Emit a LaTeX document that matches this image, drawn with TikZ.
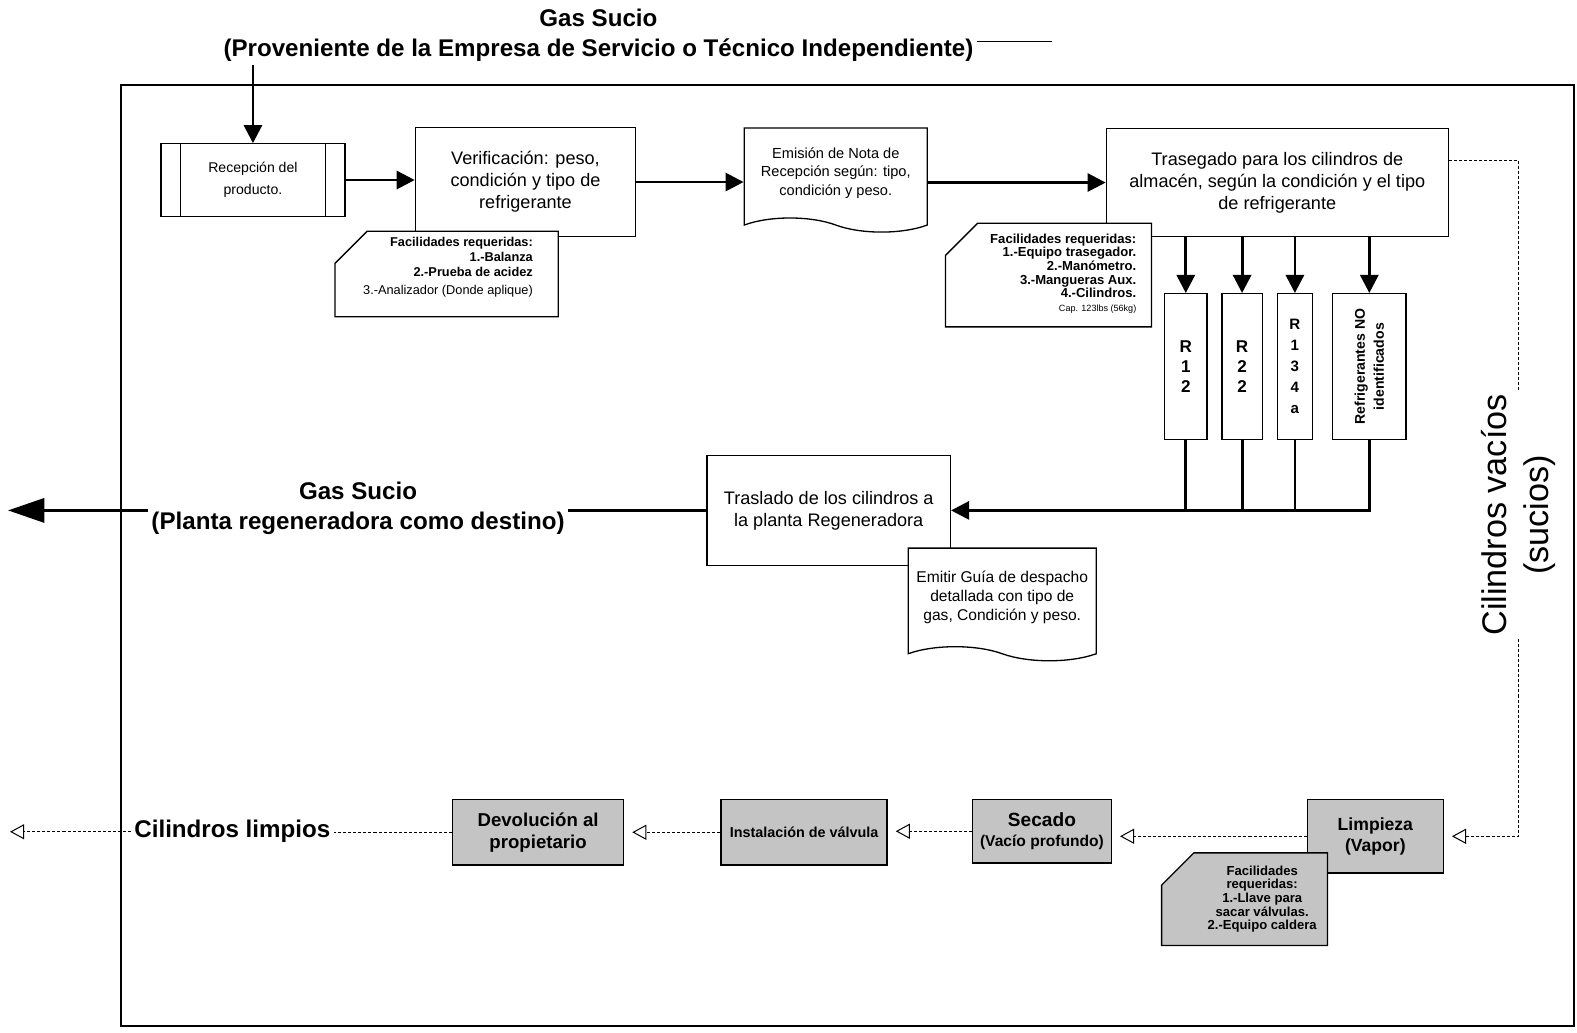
\documentclass[tikz,border=0pt]{standalone}
\usepackage{fontspec}
\setmainfont{Liberation Sans}
\usetikzlibrary{arrows.meta, shapes.symbols, calc}
\definecolor{speck}{RGB}{196,196,196}

% caja con la esquina superior izquierda cortada: x1, y1, x2, y2, relleno
\newcommand{\chamferbox}[5]{%
  \filldraw[line width=1.3pt, fill=#5] ({#1+32},#2) -- (#3,#2) -- (#3,#4) -- (#1,#4) -- (#1,{#2+32}) -- cycle;}

\tikzset{
  proc/.style={draw, line width=1.3pt, fill=white, align=center, inner sep=3pt,
    font=\fontsize{18}{22}\selectfont},
  docbox/.style={proc, shape=tape, tape bend top=none, tape bend bottom=out and in,
    tape bend height=14pt},
  factext/.style={align=right, inner sep=0pt, font=\fontsize{12.7}{14.5}\selectfont\bfseries},
  rbox/.style={draw, line width=1.3pt, fill=white, align=center, minimum height=145pt,
    inner sep=0pt, font=\fontsize{17}{20}\selectfont\bfseries},
  greybox/.style={draw, line width=1.3pt, fill=speck, align=center, inner sep=2pt,
    font=\fontsize{15}{19}\selectfont\bfseries},
  flow/.style={line width=2.8pt, -{Triangle[length=18pt, width=18pt]}},
  backflow/.style={line width=0.8pt, densely dashed,
    -{Triangle[open, length=14pt, width=15pt, line width=1pt]}, shorten >=8pt},
  bigtext/.style={font=\fontsize{24}{30}\selectfont\bfseries, align=center},
}

\begin{document}
\begin{tikzpicture}[x=1pt, y=-1pt]
\useasboundingbox (0,0) rectangle (1568,1027);

% marco
\draw[line width=2pt] (120,85) rectangle (1565,1020);

% entrada del gas
\node[bigtext] (gsin) at (595,35) {Gas Sucio\\(Proveniente de la Empresa de Servicio o Técnico Independiente)};
\draw[line width=1.3pt] ([yshift=-6pt]gsin.east) -- ++(75,0);

% recepcion y verificacion
\node[proc, minimum width=183pt, minimum height=72pt, font=\fontsize{14}{22}\selectfont] (recep) at (251.5,179) {Recepción del\\producto.};
\draw[line width=1.3pt] ([xshift=20pt]recep.north west) -- ([xshift=20pt]recep.south west)
  ([xshift=-20pt]recep.north east) -- ([xshift=-20pt]recep.south east);
\draw[flow] (recep.north |- gsin.south) -- (recep.north);

\node[proc, minimum width=219pt, minimum height=108pt] (verif) at (522.5,181) {Verificación: peso,\\condición y tipo de\\refrigerante};
\chamferbox{333}{230}{555}{315}{white}
\node[factext, anchor=east] (facverif) at (530,266)
  {Facilidades requeridas:\\1.-Balanza\\2.-Prueba de acidez\\[4pt]\mdseries 3.-Analizador (Donde aplique)};

\node[docbox, minimum width=182pt, minimum height=103.5pt, font=\fontsize{14.5}{18.5}\selectfont] (nota) at (831,172)
  {Emisión de Nota de\\Recepción según: tipo,\\condición y peso.};

\node[proc, minimum width=340pt, minimum height=107pt] (trase) at (1270,181.5)
  {Trasegado para los cilindros de\\almacén, según la condición y el tipo\\de refrigerante};
\chamferbox{940}{222}{1145}{325}{white}
\node[factext, anchor=east, font=\fontsize{13}{13.5}\selectfont\bfseries] (factrase) at (1130,272)
  {Facilidades requeridas:\\1.-Equipo trasegador.\\2.-Manómetro.\\3.-Mangueras Aux.\\4.-Cilindros.\\{\mdseries\fontsize{9}{13}\selectfont Cap. 123lbs (56kg)}};

\draw[flow] (recep.east) -- (recep.east -| verif.west);
\draw[flow] (verif.east) -- (verif.east -| nota.west);
\draw[flow] (nota.east |- trase.west) -- (trase.west);

% separacion por tipo
\node[rbox, minimum width=42pt] (rdoce) at (1179,364.5) {R\\1\\2};
\node[rbox, minimum width=40pt] (rveinti) at (1235,364.5) {R\\2\\2};
\node[rbox, minimum width=35pt, font=\fontsize{15}{21}\selectfont\bfseries] (rcien) at (1287.5,364.5) {R\\1\\3\\4\\a};
\node[rbox, minimum width=73pt] (rno) at (1361.5,364.5) {};
\node[rotate=90, align=center, font=\fontsize{14}{19}\selectfont\bfseries] (rnotxt) at (rno.center) {Refrigerantes NO\\identificados};
\foreach \r in {rdoce, rveinti, rcien, rno}
  \draw[flow] (\r.north |- trase.south) -- (\r.north);

% traslado a la planta
\node[proc, minimum width=242pt, minimum height=109pt] (trasl) at (824,507.5) {Traslado de los cilindros a\\la planta Regeneradora};
\foreach \r in {rdoce, rveinti, rcien}
  \draw[line width=2.8pt] (\r.south) -- (\r.south |- trasl.east);
\draw[flow] (rno.south) |- (trasl.east);

\node[docbox, minimum width=187pt, minimum height=112pt, font=\fontsize{15.5}{18.5}\selectfont] (guia) at (996.5,594)
  {Emitir Guía de despacho\\detallada con tipo de\\gas, Condición y peso.};

\node[bigtext] (gsout) at (356,505) {Gas Sucio\\(Planta regeneradora como destino)};
\coordinate (fuera) at (8,507.5);
\draw[line width=2.8pt] (trasl.west) -- (trasl.west -| gsout.east);
\draw[line width=2.8pt, -{Triangle[length=36pt, width=24pt]}] (gsout.west |- trasl.west) -- (fuera);

% retorno de cilindros
\node[greybox, minimum width=135pt, minimum height=73pt, font=\fontsize{17.5}{21}\selectfont\bfseries] (limp) at (1367.5,831.5) {Limpieza\\(Vapor)};
\chamferbox{1155}{848}{1320}{940}{speck}
\node[factext, align=center, font=\fontsize{13}{13.5}\selectfont\bfseries] (faclimp) at (1255,894)
  {Facilidades\\requeridas:\\1.-Llave para\\sacar válvulas.\\2.-Equipo caldera};
\node[greybox, minimum width=138pt, minimum height=63pt, font=\fontsize{15.5}{20}\selectfont\bfseries] (secado) at (1036,826.5) {{\fontsize{19}{20}\selectfont Secado}\\(Vacío profundo)};
\node[greybox, minimum width=165pt, minimum height=65pt, font=\fontsize{14.3}{19}\selectfont\bfseries] (inst) at (799.5,827.5) {Instalación de válvula};
\node[greybox, minimum width=170pt, minimum height=65pt, font=\fontsize{18.5}{22}\selectfont\bfseries] (devol) at (535,827.5) {Devolución al\\propietario};
\node[bigtext] (limpios) at (231,827) {Cilindros limpios};

\node[rotate=90, fill=white, align=center, font=\fontsize{34}{42}\selectfont] (vacios) at (1510,512) {Cilindros vacíos\\(sucios)};
\draw[line width=0.8pt, densely dashed] ([yshift=-32pt]trase.north east) -| (vacios);
\draw[backflow] (vacios) |- (limp.east);

\draw[backflow] (limp.west) -- (limp.west -| secado.east);
\draw[backflow] (secado.west) -- (secado.west -| inst.east);
\draw[backflow] (inst.west) -- (inst.west -| devol.east);
\coordinate (salida) at (10,827);
\draw[line width=0.8pt, densely dashed] (devol.west) -- (devol.west -| limpios.east);
\draw[backflow, shorten >=0pt] (limpios.west) -- (salida);

\end{tikzpicture}
\end{document}
